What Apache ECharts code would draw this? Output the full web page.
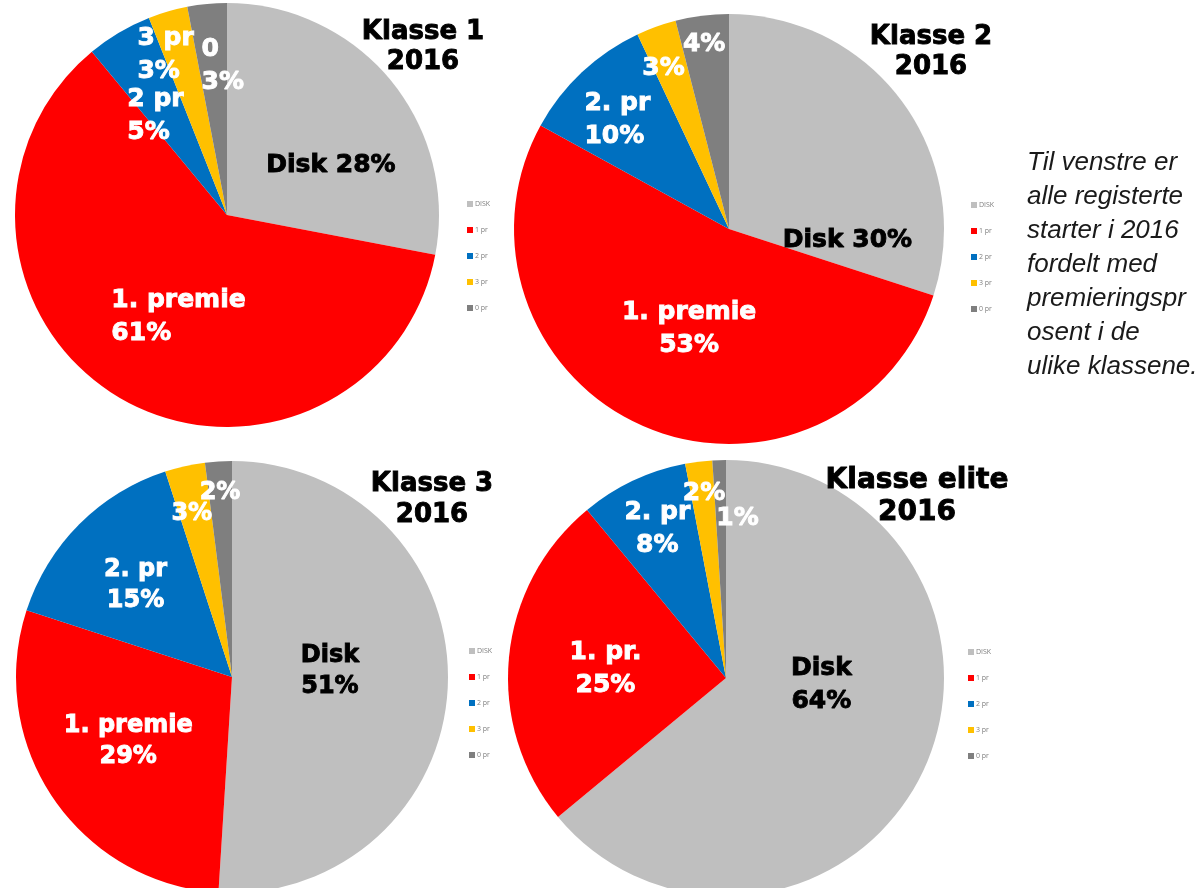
<!DOCTYPE html>
<html>
<head>
<meta charset="utf-8">
<script src="https://cdn.jsdelivr.net/npm/echarts@6/dist/echarts.min.js"></script>
<style>
html,body{margin:0;padding:0;background:#fff;}
#chart{width:1198px;height:888px;}
</style>
</head>
<body>
<div id="chart"></div>
<script>
// ---- data ----
const categories = ['DISK', '1 pr', '2 pr', '3 pr', '0 pr'];
const klasse1 = [28, 61, 5, 3, 3];
const klasse2 = [30, 53, 10, 3, 4];
const klasse3 = [51, 29, 15, 3, 2];
const klasseElite = [64, 25, 8, 2, 1];
const labelPrefix1 = ['Disk ', '1. premie\n', '2 pr\n', '3 pr\n', '0\n'];
const labelPrefix2 = ['Disk ', '1. premie\n', '2. pr\n', '', ''];
const labelPrefix3 = ['Disk\n', '1. premie\n', '2. pr\n', '', ''];
const labelPrefixElite = ['Disk\n', '1. pr.\n', '2. pr\n', '', ''];
const chartTitles = ['Klasse 1\n2016', 'Klasse 2\n2016', 'Klasse 3\n2016', 'Klasse elite\n2016'];
const sideText = 'Til venstre er\nalle registerte\nstarter i 2016\nfordelt med\npremieringspr\nosent i de\nulike klassene.';

// ---- styles ----
const colors = ['#BFBFBF', '#FF0000', '#0070C0', '#FFC000', '#7F7F7F'];
const labelFont = 'DejaVu Sans';

function makeRich(size) {
  const base = {fontFamily: labelFont, fontWeight: 'bold', fontSize: size, lineHeight: Math.round(size * 1.3), textBorderWidth: 0.9};
  return {
    dc: Object.assign({}, base, {color: '#000', textBorderColor: '#000', align: 'center'}),
    dl: Object.assign({}, base, {color: '#000', textBorderColor: '#000', align: 'left'}),
    wc: Object.assign({}, base, {color: '#fff', textBorderColor: '#fff', align: 'center'}),
    wl: Object.assign({}, base, {color: '#fff', textBorderColor: '#fff', align: 'left'})
  };
}

function makePie(values, prefixes, center, radius, fontSize, aligns, offsets) {
  return {
    type: 'pie',
    center: center,
    radius: radius,
    startAngle: 90,
    clockwise: true,
    avoidLabelOverlap: false,
    silent: true,
    animation: false,
    itemStyle: {borderWidth: 0},
    labelLine: {show: false},
    label: {
      show: true,
      position: 'inside',
      formatter: function (p) {
        const i = p.dataIndex;
        const txt = prefixes[i] + p.value + '%';
        const style = (i === 0 ? 'd' : 'w') + aligns[i];
        return txt.split('\n').map(function (l) { return '{' + style + '|' + l + '}'; }).join('\n');
      },
      rich: makeRich(fontSize)
    },
    labelLayout: function (p) {
      const o = offsets[p.dataIndex];
      return {dx: o[0], dy: o[1]};
    },
    data: categories.map(function (c, i) {
      return {name: c, value: values[i], itemStyle: {color: colors[i]}};
    })
  };
}

function makeLegend(left, top) {
  return {
    orient: 'vertical',
    left: left,
    top: top,
    padding: 0,
    itemWidth: 6,
    itemHeight: 6,
    itemGap: 18,
    icon: 'rect',
    selectedMode: false,
    textStyle: {fontFamily: 'Open Sans', fontSize: 7, color: '#7f7f7f', lineHeight: 8, padding: [0, 0, 0, -3]},
    data: categories
  };
}

function makeTitle(text, x, top, size, lh) {
  return {
    text: text,
    left: x,
    top: top,
    textAlign: 'center',
    padding: 0,
    textStyle: {fontFamily: labelFont, fontWeight: 'bold', fontSize: size, lineHeight: lh, color: '#000',
      textBorderColor: '#000', textBorderWidth: 0.9}
  };
}

const chart = echarts.init(document.getElementById('chart'), null, {renderer: 'canvas'});
chart.setOption({
  backgroundColor: '#fff',
  animation: false,
  title: [
    makeTitle(chartTitles[0], 423, 17, 26, 30),
    makeTitle(chartTitles[1], 931, 22, 26, 30),
    makeTitle(chartTitles[2], 432, 469, 26, 31),
    makeTitle(chartTitles[3], 917, 465, 28, 32),
    {
      text: sideText,
      left: 1027,
      top: 146,
      padding: 0,
      textStyle: {fontFamily: 'Liberation Sans', fontStyle: 'italic', fontWeight: 'normal', fontSize: 26, lineHeight: 34, color: '#1a1a1a'}
    }
  ],
  legend: [
    makeLegend(467, 200),
    makeLegend(971, 201),
    makeLegend(469, 647),
    makeLegend(968, 648)
  ],
  series: [
    makePie(klasse1, labelPrefix1, [227, 215], 212, 25, ['c', 'l', 'l', 'l', 'l'],
      [[20, 20], [7, 8], [-16, -5], [-31, -55], [6, -40]]),
    makePie(klasse2, labelPrefix2, [729, 229], 215, 25, ['c', 'c', 'l', 'c', 'c'],
      [[29, 76], [4, -1], [-36, -28], [-28, -57], [-11, -75]]),
    makePie(klasse3, labelPrefix3, [232, 677], 216, 24, ['c', 'c', 'c', 'c', 'c'],
      [[-13, -9], [-12, 2], [-18, -13], [-16, -55], [-5, -73]]),
    makePie(klasseElite, labelPrefixElite, [726, 678], 218, 25, ['c', 'c', 'c', 'c', 'c'],
      [[-6, -41], [-9, 2], [-21, -48], [-8, -73], [15, -48]])
  ]
});
</script>
</body>
</html>
